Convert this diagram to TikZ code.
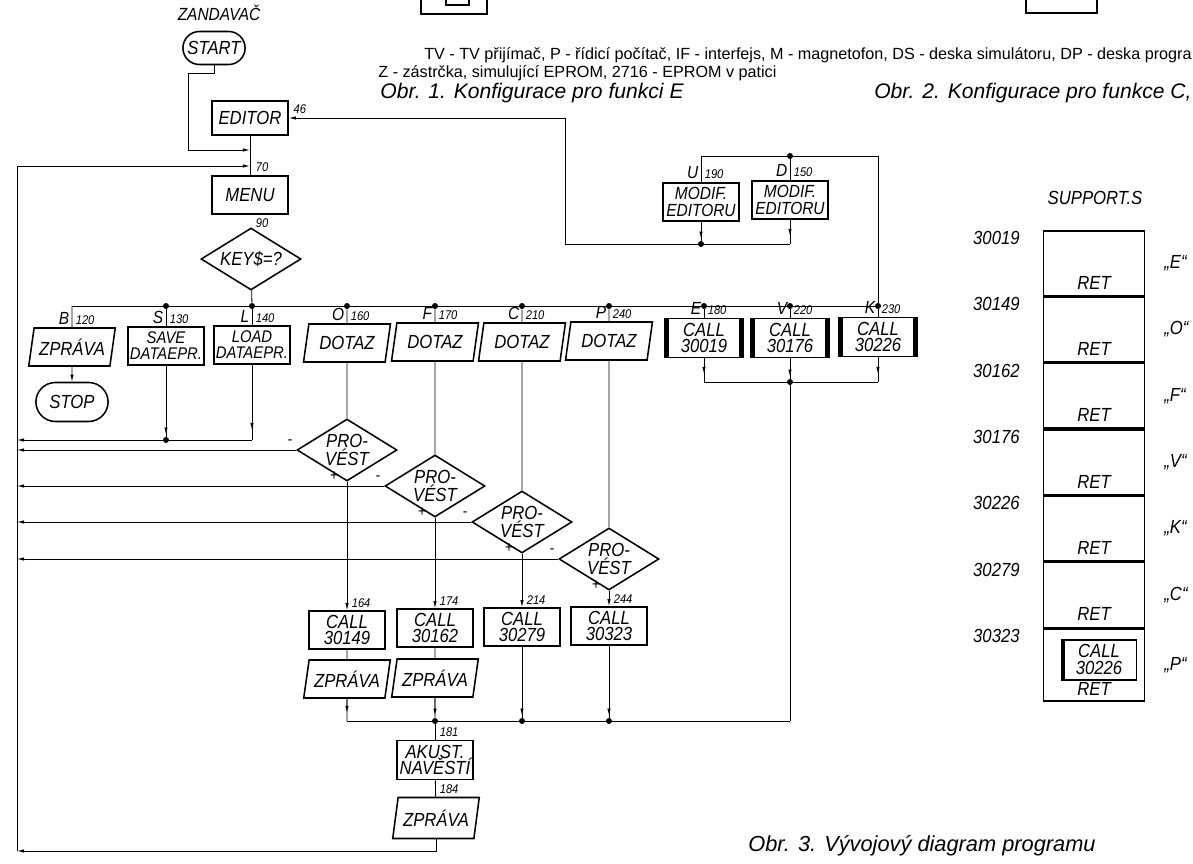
\documentclass[tikz,border=0pt]{standalone}
\usepackage{fontspec}
\setmainfont{Liberation Sans}
\newfontfamily\dia[FakeStretch=0.88]{Liberation Sans}
\usetikzlibrary{arrows.meta,positioning,shapes.geometric,shapes.misc,calc}
\newcommand{\velky}{\dia\itshape\fontsize{13.5}{12}\selectfont}
\newcommand{\maly}{\dia\itshape\fontsize{9}{9}\selectfont}
\tikzset{
  blok/.style={rectangle, draw, line width=1.1pt, minimum width=19mm,
               minimum height=9.5mm, inner sep=0.5pt, align=center, font=\velky},
  tlusty/.style={blok, path picture={
      \fill (path picture bounding box.south west) rectangle
            ([xshift=0.9mm]path picture bounding box.north west);
      \fill (path picture bounding box.south east) rectangle
            ([xshift=-0.9mm]path picture bounding box.north east);}},
  levy/.style={blok, path picture={
      \fill (path picture bounding box.south west) rectangle
            ([xshift=0.9mm]path picture bounding box.north west);}},
  data/.style={trapezium, trapezium left angle=75, trapezium right angle=105,
               trapezium stretches=true, draw, line width=1.1pt,
               minimum width=21.75mm, minimum height=9.5mm, inner sep=0.5pt,
               font=\velky},
  term/.style={rounded rectangle, draw, line width=1.1pt, minimum width=16.25mm,
               minimum height=8.25mm, inner sep=1pt, font=\velky},
  rozhod/.style={diamond, aspect=1.6, draw, line width=1.1pt, minimum width=25mm,
                 minimum height=15.5mm, inner sep=0pt, align=center,
                 font=\dia\itshape\fontsize{13.5}{11}\selectfont},
  tecka/.style={circle, fill, inner sep=0pt, minimum size=1.5mm},
  klic/.style={font=\dia\itshape\fontsize{12.5}{12}\selectfont, inner sep=1pt,
               anchor=south east},
  cis/.style={font=\maly, inner sep=1pt, anchor=south west},
  znam/.style={font=\dia\fontsize{11}{11}\selectfont, inner sep=0pt},
  sip/.style={-{Latex[length=5pt,width=2.4pt]}},
  hrot/.style={postaction={draw, -{Latex[length=5pt,width=2.4pt]}, shorten >=#1}},
  bunka/.style={rectangle, draw, line width=1.1pt, minimum width=25.25mm,
                minimum height=16.2mm, inner sep=0pt},
  popis/.style={anchor=west, inner sep=0pt, font=\fontsize{11.5}{12}\selectfont},
  obr/.style={anchor=west, inner sep=0pt, font=\itshape\fontsize{15}{16}\selectfont},
}

\begin{document}
\begin{tikzpicture}[x=0.25mm, y=-0.25mm, line width=0.6pt]
\useasboundingbox (0,0) rectangle (1193,864);

% zbytky obr. 1 a 2
\draw[line width=1pt] (421,-5) |- (487,14) -- (487,-5);
\draw[line width=1pt] (446,-5) |- (469,5) -- (469,-5);
\draw[line width=1pt] (1026,-5) |- (1097,13) -- (1097,-5);

% popisky
\node[popis, anchor=east] (pop1) at (1192,55)
  {TV - TV přijímač, P - řídicí počítač, IF - interfejs, M - magnetofon, DS - deska simulátoru, DP - deska progra};
\node[popis] (pop2) at (378,73)
  {Z - zástrčka, simulující EPROM, 2716 - EPROM v patici};
\node[obr] (obr1) at (380,93) {Obr. 1. Konfigurace pro funkci E};
\node[obr, anchor=east] (obr2) at (1192,93) {Obr. 2. Konfigurace pro funkce C,};
\node[obr, font=\itshape\fontsize{15.5}{16}\selectfont] (obr3) at (748,846)
  {Obr. 3. Vývojový diagram programu};

% zacatek
\node[font=\dia\itshape\fontsize{12.5}{12}\selectfont] (zand) at (219,13) {ZANDAVAČ};
\node[term] (start) at (214,48) {START};
\node[blok, minimum height=8.5mm] (editor) at (250,118) {EDITOR};
\node[blok] (menu) at (250,195) {MENU};
\node[rozhod] (key) at (251,259) {KEY\$=?};
\coordinate (edin) at (250,150);
\coordinate (menuin) at (250,166);
\draw (editor) -- (menu);
\draw[sip] (start.south) -- ++(0,8) -- ++(-26,0) |- (edin);
\node[cis] at ($(editor.east)+(3,-3)$) {46};
\node[cis] at ($(menu.north)+(4,-2)$) {70};
\node[cis, anchor=west] at ($(menu.south)+(4,8)$) {90};

% rozbocovani
\coordinate (bB) at (72,306);
\node[tecka] (bS) at (166,306) {};
\node[tecka] (bL) at (252,306) {};
\node[tecka] (bO) at (347,306) {};
\node[tecka] (bF) at (435,306) {};
\node[tecka] (bC) at (522,306) {};
\node[tecka] (bP) at (609,306) {};
\node[tecka] (bE) at (704,306) {};
\node[tecka] (bV) at (790,306) {};
\node[tecka] (bK) at (878,306) {};
\draw (key) -- (bL);
\draw (bB) -- (bK.center);

\node[data] (zpr1) at (72,347) {ZPRÁVA};
\node[blok, font=\dia\itshape\fontsize{12}{11.5}\selectfont] (save) at (166,346) {SAVE\\DATAEPR.};
\node[blok, font=\dia\itshape\fontsize{12}{11.5}\selectfont] (load) at (252,345) {LOAD\\DATAEPR.};
\node[data] (dotO) at (347,343) {DOTAZ};
\node[data] (dotF) at (435,342) {DOTAZ};
\node[data] (dotC) at (522,342) {DOTAZ};
\node[data] (dotP) at (609,341) {DOTAZ};
\node[tlusty, minimum width=19.5mm, minimum height=9.75mm] (callE) at (704,338) {CALL\\30019};
\node[tlusty, minimum width=19.5mm, minimum height=9.75mm] (callV) at (790,338) {CALL\\30176};
\node[tlusty, minimum width=19.5mm, minimum height=9.75mm] (callK) at (878,337) {CALL\\30226};
\draw (bB) -- (zpr1);
\draw (bS) -- (save);
\draw (bL) -- (load);
\draw (bO) -- (dotO);
\draw (bF) -- (dotF);
\draw (bC) -- (dotC);
\draw (bP) -- (dotP);
\draw (bE) -- (callE);
\draw (bV) -- (callV);
\draw (bK) -- (callK);

\node[klic] at ($(zpr1.north)+(-1,-1)$) {B};  \node[cis] at ($(zpr1.north)+(2,-1)$) {120};
\node[klic] at ($(save.north)+(-1,-1)$) {S};  \node[cis] at ($(save.north)+(2,-1)$) {130};
\node[klic] at ($(load.north)+(-1,-1)$) {L};  \node[cis] at ($(load.north)+(2,-1)$) {140};
\node[klic] at ($(dotO.north)+(-1,-1)$) {O};  \node[cis] at ($(dotO.north)+(2,-1)$) {160};
\node[klic] at ($(dotF.north)+(-1,-1)$) {F};  \node[cis] at ($(dotF.north)+(2,-1)$) {170};
\node[klic] at ($(dotC.north)+(-1,-1)$) {C};  \node[cis] at ($(dotC.north)+(2,-1)$) {210};
\node[klic] at ($(dotP.north)+(-1,-1)$) {P};  \node[cis] at ($(dotP.north)+(2,-1)$) {240};
\node[klic] at ($(callE.north)+(-1,-1)$) {E}; \node[cis] at ($(callE.north)+(2,-1)$) {180};
\node[klic] at ($(callV.north)+(-1,-1)$) {V}; \node[cis] at ($(callV.north)+(2,-1)$) {220};
\node[klic] at ($(callK.north)+(-1,-1)$) {K}; \node[cis] at ($(callK.north)+(2,-1)$) {230};

% B, S, L
\node[term, minimum width=18.75mm, minimum height=9.75mm] (stop) at (72,402) {STOP};
\draw[sip] (zpr1) -- (stop);
\coordinate (lt) at (17,166);
\coordinate (lb) at (17,851);
\node[tecka] (sl) at (166,440) {};
\coordinate (lc) at (252,440);
\draw[hrot=0.5mm] (save) -- (sl);
\draw[hrot=2.5mm] (load) -- (lc);
\draw (lc) -- (sl);
\draw[sip] (sl) -- (sl -| lt);

% dotazy
\node[rozhod] (dO) at (347,450) {PRO-\\VÉST};
\node[rozhod] (dF) at (435,486) {PRO-\\VÉST};
\node[rozhod] (dC) at (522,522) {PRO-\\VÉST};
\node[rozhod] (dP) at (609,559) {PRO-\\VÉST};
\draw (dotO) -- (dO);
\draw (dotF) -- (dF);
\draw (dotC) -- (dC);
\draw (dotP) -- (dP);
\draw[sip] (dO.west) -- (dO.west -| lt);
\draw[sip] (dF.west) -- (dF.west -| lt);
\draw[sip] (dC.west) -- (dC.west -| lt);
\draw[sip] (dP.west) -- (dP.west -| lt);
\node[znam] at ($(dO.west)+(-6,-8)$) {-};  \node[znam] at ($(dO.south)+(-13,-6)$) {+};
\node[znam] at ($(dF.west)+(-6,-8)$) {-};  \node[znam] at ($(dF.south)+(-13,-6)$) {+};
\node[znam] at ($(dC.west)+(-6,-8)$) {-};  \node[znam] at ($(dC.south)+(-13,-6)$) {+};
\node[znam] at ($(dP.west)+(-6,-8)$) {-};  \node[znam] at ($(dP.south)+(-13,-6)$) {+};

\node[blok] (cO) at (347,630) {CALL\\30149};
\node[blok] (cF) at (435,628) {CALL\\30162};
\node[blok] (cC) at (522,627) {CALL\\30279};
\node[blok] (cP) at (609,626) {CALL\\30323};
\draw[sip] (dO) -- (cO);
\draw[sip] (dF) -- (cF);
\draw[sip] (dC) -- (cC);
\draw[sip] (dP) -- (cP);
\node[cis] at ($(cO.north)+(3,-1)$) {164};
\node[cis] at ($(cF.north)+(3,-1)$) {174};
\node[cis] at ($(cC.north)+(3,-1)$) {214};
\node[cis] at ($(cP.north)+(3,-1)$) {244};

\node[data] (zO) at (347,679) {ZPRÁVA};
\node[data] (zF) at (435,678) {ZPRÁVA};
\draw (cO) -- (zO);
\draw (cF) -- (zF);

% spojeni dole
\coordinate (oc) at (347,721);
\node[tecka] (jF) at (435,721) {};
\node[tecka] (jC) at (522,721) {};
\node[tecka] (jP) at (609,721) {};
\coordinate (vc) at (790,721);
\draw[hrot=2mm] (zO) -- (oc);
\draw[hrot=0.5mm] (zF) -- (jF);
\draw[hrot=0.5mm] (cC) -- (jC);
\draw[hrot=0.5mm] (cP) -- (jP);
\draw (oc) -- (vc);

% E, V, K
\coordinate (eE) at (704,382);
\node[tecka] (jV) at (790,382) {};
\coordinate (eK) at (878,382);
\draw[hrot=2mm] (callE) -- (eE);
\draw[hrot=0.5mm] (callV) -- (jV);
\draw[hrot=2mm] (callK) -- (eK);
\draw (eE) -- (eK);
\draw (jV) -- (vc);

\node[blok, minimum height=9.75mm] (akust) at (435,760) {AKUST.\\NAVĚSTÍ};
\draw (jF) -- (akust);
\node[cis, anchor=west] at ($(jF)+(3,11)$) {181};
\node[data, minimum height=10.25mm] (zpr3) at (436,818) {ZPRÁVA};
\draw (akust) -- (zpr3);
\node[cis, anchor=west] at ($(akust.south)+(3,9)$) {184};
\draw[sip] (zpr3.south) |- (lb);
\draw[sip] (lb) -- (lt) -- (menuin);

% U, D
\node[blok, line width=1.8pt, font=\dia\itshape\fontsize{12.5}{11.5}\selectfont] (modU) at (701,202) {MODIF.\\EDITORU};
\node[blok, line width=1.8pt, font=\dia\itshape\fontsize{12.5}{11.5}\selectfont] (modD) at (790,200) {MODIF.\\EDITORU};
\coordinate (tK) at (878,156);
\node[tecka] (tD) at (790,156) {};
\coordinate (tU) at (701,156);
\draw (bK) -- (tK) -- (tU) -- (modU);
\draw (tD) -- (modD);
\node[klic] at ($(modU.north)+(-1,-1)$) {U}; \node[cis] at ($(modU.north)+(2,-1)$) {190};
\node[klic] at ($(modD.north)+(-1,-1)$) {D}; \node[cis] at ($(modD.north)+(2,-1)$) {150};
\node[tecka] (jU) at (701,244) {};
\coordinate (jD) at (790,244);
\coordinate (jL) at (565,244);
\draw[hrot=0.5mm] (modU) -- (jU);
\draw[hrot=2mm] (modD) -- (jD);
\draw[sip] (jD) -- (jL) |- (editor.east);

% SUPPORT.S
\node[font=\velky] (supp) at (1095,198) {SUPPORT.S};
\node[bunka, anchor=north] (s1) at (1094,230) {};
\node[bunka, below=0pt of s1] (s2) {};
\node[bunka, below=0pt of s2] (s3) {};
\node[bunka, below=0pt of s3] (s4) {};
\node[bunka, below=0pt of s4] (s5) {};
\node[bunka, below=0pt of s5] (s6) {};
\node[bunka, below=0pt of s6, minimum height=18mm] (s7) {};
\node[font=\velky, anchor=south] at ($(s1.south)+(0,-2)$) {RET};
\node[font=\velky, anchor=south] at ($(s2.south)+(0,-2)$) {RET};
\node[font=\velky, anchor=south] at ($(s3.south)+(0,-2)$) {RET};
\node[font=\velky, anchor=south] at ($(s4.south)+(0,-2)$) {RET};
\node[font=\velky, anchor=south] at ($(s5.south)+(0,-2)$) {RET};
\node[font=\velky, anchor=south] at ($(s6.south)+(0,-2)$) {RET};
\node[font=\velky, anchor=south] at ($(s7.south)+(0,-1)$) {RET};
\node[font=\velky, anchor=east] at ($(s1.north west)+(-18,8)$) {30019};
\node[font=\velky, anchor=east] at ($(s2.north west)+(-18,8)$) {30149};
\node[font=\velky, anchor=east] at ($(s3.north west)+(-18,8)$) {30162};
\node[font=\velky, anchor=east] at ($(s4.north west)+(-18,8)$) {30176};
\node[font=\velky, anchor=east] at ($(s5.north west)+(-18,8)$) {30226};
\node[font=\velky, anchor=east] at ($(s6.north west)+(-18,8)$) {30279};
\node[font=\velky, anchor=east] at ($(s7.north west)+(-18,8)$) {30323};
\node[font=\velky, anchor=west] at ($(s1.east)+(14,0)$) {„E“};
\node[font=\velky, anchor=west] at ($(s2.east)+(14,0)$) {„O“};
\node[font=\velky, anchor=west] at ($(s3.east)+(14,0)$) {„F“};
\node[font=\velky, anchor=west] at ($(s4.east)+(14,0)$) {„V“};
\node[font=\velky, anchor=west] at ($(s5.east)+(14,0)$) {„K“};
\node[font=\velky, anchor=west] at ($(s6.east)+(14,0)$) {„C“};
\node[font=\velky, anchor=west] at ($(s7.east)+(14,0)$) {„P“};
\node[levy, minimum width=18.75mm, minimum height=10mm] (scall) at ($(s7.center)+(5,-5)$) {CALL\\30226};
\end{tikzpicture}
\end{document}
